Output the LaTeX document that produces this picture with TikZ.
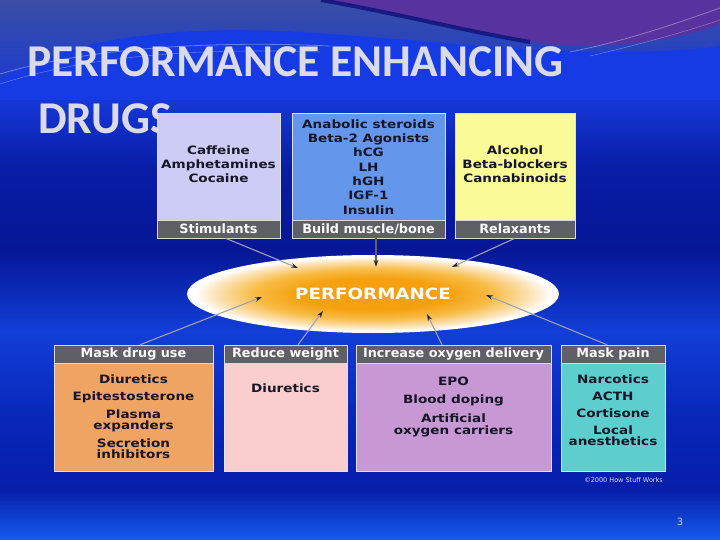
\documentclass[tikz,border=0pt]{standalone}
\usepackage{fontspec}
\setmainfont{DejaVu Sans}
\newfontfamily\widefont{DejaVu Sans}[FakeStretch=1.18]
\newfontfamily\barfont{DejaVu Sans}
\newfontfamily\titlefont{Carlito}
\usetikzlibrary{arrows.meta,calc,shapes.geometric}
\definecolor{bgA}{RGB}{58,78,165}
\definecolor{bgB}{RGB}{22,55,215}
\definecolor{bgC}{RGB}{8,28,165}
\definecolor{bgD}{RGB}{6,22,150}
\definecolor{bgE}{RGB}{18,62,215}
\definecolor{bgF}{RGB}{8,38,185}
\definecolor{bgG}{RGB}{6,30,170}
\definecolor{bgH}{RGB}{22,92,240}
\definecolor{swblue}{RGB}{22,58,228}
\definecolor{swpurple}{RGB}{88,50,158}
\definecolor{swnavy}{RGB}{14,20,125}
\definecolor{titlecol}{RGB}{218,218,232}
\definecolor{barcol}{RGB}{95,95,102}
\definecolor{stimcol}{RGB}{204,204,244}
\definecolor{muscol}{RGB}{100,150,236}
\definecolor{relcol}{RGB}{250,250,150}
\definecolor{mdcol}{RGB}{240,164,100}
\definecolor{rwcol}{RGB}{250,206,206}
\definecolor{iocol}{RGB}{200,152,212}
\definecolor{mpcol}{RGB}{92,206,206}
\definecolor{txtcol}{RGB}{22,22,40}
\definecolor{porange}{RGB}{245,160,15}
\definecolor{pmid}{RGB}{248,188,70}
\definecolor{plight}{RGB}{252,230,190}
\definecolor{arrcol}{RGB}{160,160,175}
\pgfdeclareradialshading{perfglow}{\pgfpoint{0bp}{0bp}}{color(0bp)=(porange); color(10bp)=(porange); color(16bp)=(pmid); color(21.5bp)=(plight); color(24bp)=(white); color(50bp)=(white)}
\tikzset{
  content/.style={rectangle, draw=white!75!gray, line width=0.5pt, inner sep=0pt},
  bar/.style={rectangle, fill=barcol, draw=white!70!gray, line width=0.5pt, inner sep=0pt, minimum height=18pt, text=white!95!gray, font=\barfont\bfseries\fontsize{12.8}{14}\selectfont},
  itemtxt/.style={align=center, inner sep=0pt, text=txtcol, font=\widefont\bfseries\fontsize{11.5}{11}\selectfont},
  arr/.style={draw=arrcol, line width=1.1pt, -{Stealth[length=7pt,width=4.5pt,color=black!85]}}
}
\begin{document}
\begin{tikzpicture}[x=1pt,y=-1pt]
\useasboundingbox (0,0) rectangle (720,540);
% background
\shade[top color=bgA,bottom color=bgB] (0,0) rectangle (720,100);
\shade[top color=bgB,bottom color=bgC] (0,100) rectangle (720,170);
\shade[top color=bgC,bottom color=bgD] (0,170) rectangle (720,250);
\shade[top color=bgD,bottom color=bgE] (0,250) rectangle (720,330);
\shade[top color=bgE,bottom color=bgF] (0,330) rectangle (720,420);
\shade[top color=bgF,bottom color=bgG] (0,420) rectangle (720,490);
\shade[top color=bgG,bottom color=bgH] (0,490) rectangle (720,540);
\fill[swblue] (0,100) -- (0,80) .. controls (80,32) and (200,24) .. (330,34) .. controls (450,42) and (600,62) .. (720,46) -- (720,100) -- cycle;
\fill[swpurple] (321,0) .. controls (400,14) and (460,30) .. (530,42) .. controls (600,52) and (680,40) .. (720,24) -- (720,0) -- cycle;
\draw[swnavy, line width=4pt, opacity=0.85] (321,0) .. controls (400,14) and (460,30) .. (530,42);
\draw[white, opacity=0.35, line width=0.8pt] (0,74) .. controls (80,50) and (200,40) .. (330,46);
\draw[white, opacity=0.3, line width=0.6pt] (0,84) .. controls (90,55) and (200,48) .. (320,52);
\draw[white, opacity=0.35, line width=0.8pt] (570,52) .. controls (630,40) and (680,22) .. (720,8);
\draw[white, opacity=0.3, line width=0.6pt] (590,56) .. controls (650,42) and (690,30) .. (720,20);
% title
\node[anchor=base west, inner sep=0pt, text=titlecol, font=\titlefont\bfseries\fontsize{45.5}{50}\selectfont] (title1) at (27,77) {PERFORMANCE ENHANCING};
\node[anchor=base west, inner sep=0pt, text=titlecol, font=\titlefont\bfseries\fontsize{45.5}{50}\selectfont] (title2) at (38,134) {DRUGS};
% top boxes
\node[content, fill=stimcol, minimum width=123pt, minimum height=107pt] (stimC) at (218.5,166.5) {};
\node[bar, minimum width=123pt] (stimB) at (218.5,229) {Stimulants};
\node[content, fill=muscol, minimum width=153pt, minimum height=107pt] (musC) at (368.5,166.5) {};
\node[bar, minimum width=153pt] (musB) at (368.5,229) {Build muscle/bone};
\node[content, fill=relcol, minimum width=120pt, minimum height=107pt] (relC) at (515,166.5) {};
\node[bar, minimum width=120pt] (relB) at (515,229) {Relaxants};
\node[itemtxt, font=\widefont\bfseries\fontsize{11.5}{14}\selectfont] (stimT) at (218.5,164) {Caffeine\\Amphetamines\\Cocaine};
\node[itemtxt, font=\widefont\bfseries\fontsize{11.5}{14.3}\selectfont] (musT) at (368.5,167) {Anabolic steroids\\Beta-2 Agonists\\hCG\\LH\\hGH\\IGF-1\\Insulin};
\node[itemtxt, font=\widefont\bfseries\fontsize{11.5}{14}\selectfont] (relT) at (515,164) {Alcohol\\Beta-blockers\\Cannabinoids};
% performance ellipse
\node[ellipse, shading=perfglow, minimum width=372pt, minimum height=78pt, inner sep=0pt, text=white, font=\widefont\bfseries\fontsize{15.5}{18}\selectfont] (perf) at (373,294) {PERFORMANCE};
% bottom boxes
\node[content, fill=mdcol, minimum width=159pt, minimum height=108pt] (mdC) at (133.5,417) {};
\node[bar, minimum width=159pt] (mdB) at (133.5,354) {Mask drug use};
\node[content, fill=rwcol, minimum width=123pt, minimum height=108pt] (rwC) at (285.5,417) {};
\node[bar, minimum width=123pt] (rwB) at (285.5,354) {Reduce weight};
\node[content, fill=iocol, minimum width=195pt, minimum height=108pt] (ioC) at (453.5,417) {};
\node[bar, minimum width=195pt] (ioB) at (453.5,354) {Increase oxygen delivery};
\node[content, fill=mpcol, minimum width=104pt, minimum height=108pt] (mpC) at (613,417) {};
\node[bar, minimum width=104pt] (mpB) at (613,354) {Mask pain};
\node[itemtxt, anchor=north] (mdT) at (133.5,374.5) {Diuretics\\[6pt]Epitestosterone\\[6pt]Plasma\\expanders\\[6pt]Secretion\\inhibitors};
\node[itemtxt, anchor=north] (rwT) at (285.5,383.5) {Diuretics};
\node[itemtxt, anchor=north, font=\widefont\bfseries\fontsize{11.5}{12.5}\selectfont] (ioT) at (453.5,376.5) {EPO\\[6pt]Blood doping\\[6pt]Artificial\\oxygen carriers};
\node[itemtxt, anchor=north] (mpT) at (613,374.5) {Narcotics\\[6pt]ACTH\\[6pt]Cortisone\\[6pt]Local\\anesthetics};
% arrows
\draw[arr] ($(stimB.south)+(7,0)$) -- ($(perf.center)+(-75,-26)$);
\draw[arr, draw=gray!75!black, line width=2pt] ($(musB.south)+(7.5,0)$) -- ($(perf.center)+(3,-27)$);
\draw[arr] (relB.south) -- ($(perf.center)+(79,-27)$);
\draw[arr] ($(mdB.north)+(6.5,0)$) -- ($(perf.center)+(-111,3)$);
\draw[arr] ($(rwB.north)+(12.5,0)$) -- ($(perf.center)+(-50,17)$);
\draw[arr] ($(ioB.north)+(-11.5,0)$) -- ($(perf.center)+(54,20)$);
\draw[arr] ($(mpB.north)+(-6,0)$) -- ($(perf.center)+(113,1)$);
% credits
\node[anchor=east, inner sep=0pt, text=white!75!gray, font=\fontsize{6.5}{8}\selectfont] (credit) at (663,480) {©2000 How Stuff Works};
\node[inner sep=0pt, text={rgb,255:red,200;green,210;blue,245}, font=\fontsize{10}{12}\selectfont] (pagenum) at (680,522) {3};
\end{tikzpicture}
\end{document}
